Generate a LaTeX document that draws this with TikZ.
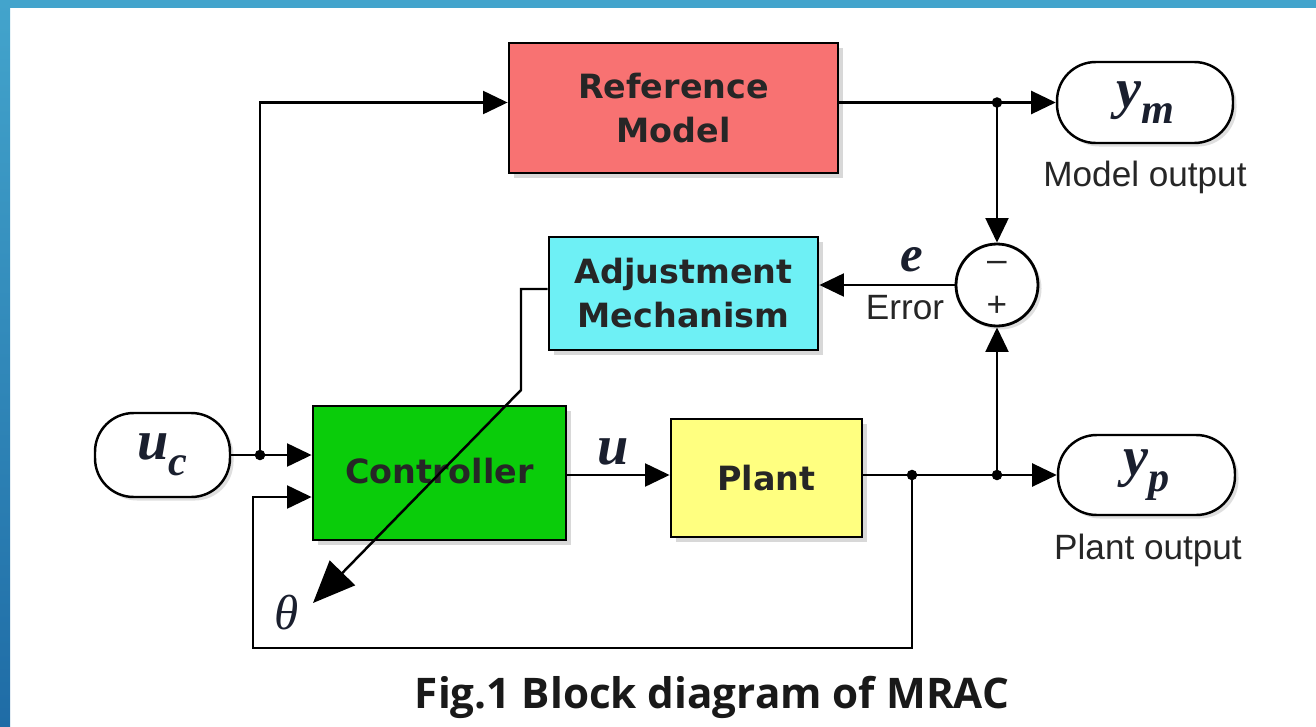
\documentclass[tikz,border=0pt]{standalone}
\usepackage{fontspec}
\setmainfont{Liberation Serif}
\newfontfamily\boxfont{DejaVu Sans}
\newfontfamily\lblfont{Liberation Sans}
\newfontfamily\capfont{Open Sans}
\usetikzlibrary{arrows.meta,shadows,calc}
\definecolor{refc}{HTML}{F87272}
\definecolor{adjc}{HTML}{6EF0F5}
\definecolor{ctrlc}{HTML}{0ACC0A}
\definecolor{plantc}{HTML}{FFFF80}
\definecolor{bluetop}{HTML}{43A4CC}
\definecolor{bluebot}{HTML}{1F6CA6}
\definecolor{ink}{HTML}{1A1F2E}
\newcommand{\mysig}[2]{{\fontsize{32}{32}\selectfont\bfseries\itshape #1}\raisebox{-9pt}{\fontsize{24}{24}\selectfont\bfseries\itshape #2}}
\begin{document}
\begin{tikzpicture}[x=0.02cm,y=-0.02cm,
  blk/.style={draw=black,line width=1.6pt,align=center,
    font=\boxfont\bfseries\fontsize{19}{25}\selectfont,text=black!85,
    drop shadow={opacity=0.3,shadow xshift=3pt,shadow yshift=-3pt},inner sep=0pt},
  term/.style={draw=black,line width=1.4pt,rounded corners=22pt,fill=white,inner sep=0pt,text=ink,
    drop shadow={opacity=0.25,shadow xshift=2pt,shadow yshift=-2pt}},
  wire/.style={line width=1.6pt},
  arr/.style={wire,-{Triangle[length=14pt,width=13pt]}},
  dot/.style={circle,fill=black,inner sep=0pt,minimum size=6pt},
  lbl/.style={font=\lblfont\fontsize{20}{20}\selectfont,text=black!85}]
% background and frame
\fill[white] (0,0) rectangle (1316,727);
\shade[top color=bluetop,bottom color=bluebot] (0,0) rectangle (10,727);
\fill[bluetop] (0,0) rectangle (1316,8);
\useasboundingbox (0,0) rectangle (1316,727);
% blocks
\node[blk,fill=refc,minimum width=6.58cm,minimum height=2.6cm] (refm) at (673.5,108) {Reference\\Model};
\node[blk,fill=adjc,minimum width=5.38cm,minimum height=2.26cm] (adj) at (683.5,293.5) {Adjustment\\Mechanism};
\node[blk,fill=ctrlc,minimum width=5.06cm,minimum height=2.68cm] (ctrl) at (439.5,473) {\raisebox{3pt}{Controller}};
\node[blk,fill=plantc,minimum width=3.82cm,minimum height=2.36cm] (plant) at (766.5,478) {Plant};
% terminals
\node[term,minimum width=2.7cm,minimum height=1.68cm] (uc) at (162.5,455) {\mysig{u}{c}};
\node[term,minimum width=3.52cm,minimum height=1.62cm] (ym) at (1145,102.5) {\mysig{y}{m}};
\node[term,minimum width=3.54cm,minimum height=1.6cm] (yp) at (1146.5,475) {\mysig{y}{p}};
% sum
\node[circle,draw=black,line width=1.6pt,minimum size=1.64cm,inner sep=0pt,fill=white,
  drop shadow={opacity=0.25,shadow xshift=2pt,shadow yshift=-2pt}] (sum) at (997,285) {};
\node[lbl] (minus) at (997,266) {\textendash};
\node[lbl] (plus) at (997,306) {+};
% coordinates
\coordinate (J1) at (260,455);
\coordinate (J2) at (sum.north|-ym.west);
\coordinate (J3) at (912,475);
\coordinate (J4) at (sum.south|-yp.west);
\coordinate (A1) at (521,289);
\coordinate (A2) at (521,390);
\coordinate (th) at (313,603);
\coordinate (F1) at (912,648);
\coordinate (F3) at (253,497);
% wires
\draw[arr] (uc.east) -- (ctrl.west|-uc.east);
\draw[arr] (J1) |- (refm.west|-ym.west);
\draw[arr] (refm.east|-ym.west) -- (ym.west);
\draw[arr] (J2) -- (sum.north);
\draw[arr] (ctrl.east|-yp.west) -- (plant.west|-yp.west);
\draw[arr] (plant.east|-yp.west) -- (yp.west);
\draw[arr] (J4) -- (sum.south);
\draw[arr] (sum.west) -- (adj.east|-sum.west);
\draw[line width=1.4pt,-{Triangle[length=24pt,width=20pt]}] (adj.west|-A1) -- (A1) -- (A2) -- (th);
\draw[arr] (J3) -- (F1) -| (F3) -- (ctrl.west|-F3);
% dots
\node[dot] (d1) at (J1) {};
\node[dot] (d2) at (J2) {};
\node[dot] (d3) at (J3) {};
\node[dot] (d4) at (J4) {};
% labels
\node[text=ink] (ulbl) at (613,452) {\fontsize{32}{32}\selectfont\bfseries\itshape u};
\node[text=ink] (elbl) at (912,260) {\fontsize{29}{29}\selectfont\bfseries\itshape e};
\node[lbl] (errlbl) at (905,308) {Error};
\node[lbl] (mo) at (1145,177) {Model output};
\node[lbl] (po) at (1148,550) {Plant output};
\node[text=ink] (theta) at (287,613) {\fontsize{28}{28}\selectfont\itshape θ};
\node[font=\capfont\bfseries\fontsize{24}{24}\selectfont,text=black!90] (cap) at (712,697) {Fig.1 Block diagram of MRAC};
\end{tikzpicture}
\end{document}
